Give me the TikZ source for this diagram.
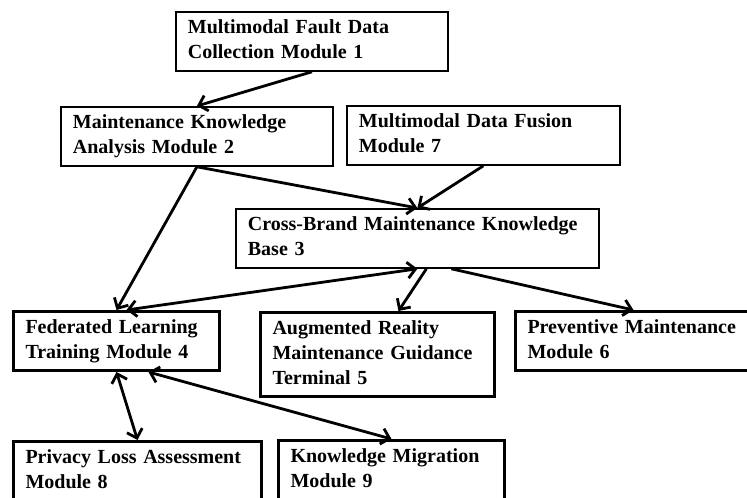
\documentclass[tikz,border=0pt]{standalone}
\usepackage{fontspec}
\setmainfont{Liberation Serif}
\usetikzlibrary{arrows.meta}

\begin{document}
\begin{tikzpicture}[x=1pt, y=-1pt,
  box/.style={draw, line width=1.8pt, anchor=north west, align=left,
    inner xsep=12pt, inner ysep=4.5pt,
    font=\bfseries\fontsize{20}{25}\selectfont,
    execute at begin node=\strut, execute at end node=\strut},
  heavy/.style={box, line width=3pt},
  cut/.style={execute at end node={\strut\rule[-16pt]{0pt}{1pt}}},
  link/.style={line width=2.8pt, -{Straight Barb[length=8pt,width=16pt]}},
  both/.style={line width=2.8pt, {Straight Barb[length=8pt,width=16pt]}-{Straight Barb[length=8pt,width=16pt]}}]
\useasboundingbox (0,0) rectangle (747,498);

\node [box, text width=248pt] (b1) at (175,11) {Multimodal Fault Data\\Collection Module 1};
\node [box, text width=248pt] (b2) at (60,106) {Maintenance Knowledge\\Analysis Module 2};
\node [box, text width=249pt] (b7) at (346,105) {Multimodal Data Fusion\\Module 7};
\node [box, text width=339pt] (b3) at (235,208) {Cross-Brand Maintenance Knowledge\\Base 3};
\node [heavy, text width=182pt] (b4) at (12,310) {Federated Learning\\Training Module 4};
\node [heavy, text width=210pt] (b5) at (259,311) {Augmented Reality\\Maintenance Guidance\\Terminal 5};
\node [heavy, text width=222pt] (b6) at (514,310) {Preventive Maintenance\\Module 6};
\node [heavy, cut, text width=224pt] (b8) at (12,440) {Privacy Loss Assessment\\Module 8};
\node [heavy, cut, text width=202pt] (b9) at (277,439) {Knowledge Migration\\Module 9};

\draw [link] (b1.south) -- (b2.north);
\draw [link] (b2.south) -- (b3.north);
\draw [link] (b2.south) -- (b4.north);
\draw [link] (b7.south) -- (b3.north);
\draw [both] (b3.south) -- ([xshift=10pt]b4.north);
\draw [link] ([xshift=9pt]b3.south) -- ([xshift=21pt]b5.north);
\draw [link] ([xshift=34pt]b3.south) -- ([xshift=-5pt]b6.north);
\draw [both] (b4.south) -- (b8.north);
\draw [both] ([xshift=32pt]b4.south) -- (b9.north);
\end{tikzpicture}
\end{document}
